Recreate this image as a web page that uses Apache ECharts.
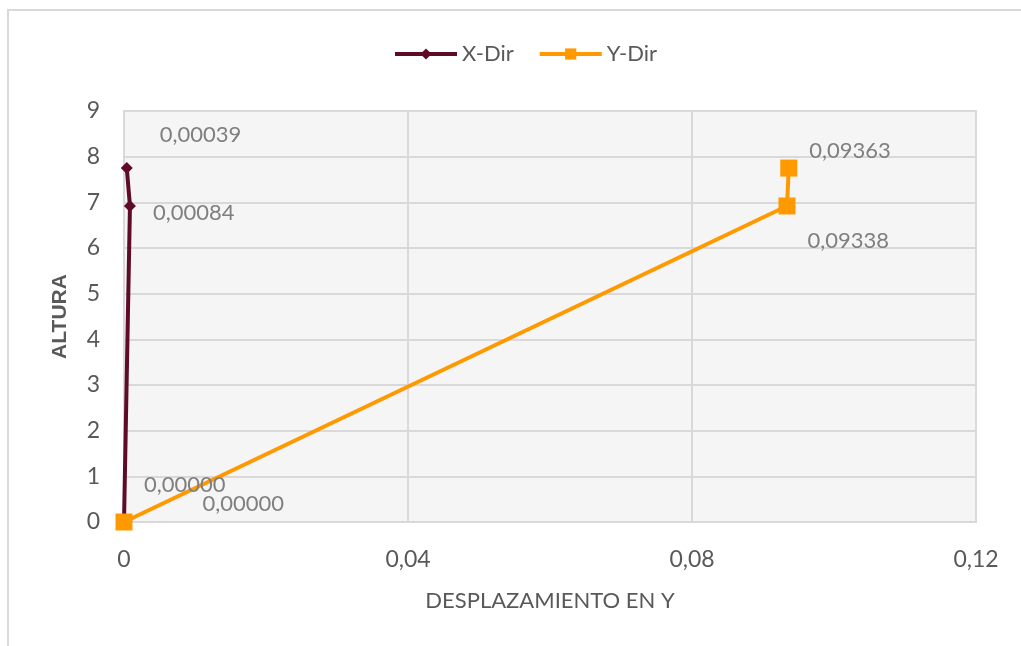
<!DOCTYPE html>
<html>
<head>
<meta charset="utf-8">
<script src="https://cdn.jsdelivr.net/npm/echarts@6/dist/echarts.min.js"></script>
<style>
	html,body{margin:0;padding:0;background:#fff}
	#main{width:1021px;height:646px}
</style>
</head>
<body>
<div id="main"></div>
<script>
// alturas de los niveles
var alturas = [0, 6.92, 7.75];
// desplazamientos
var xDir = [0, 0.00084, 0.00039];
var yDir = [0, 0.09338, 0.09363];
var xTicks = [0, 0.04, 0.08, 0.12];

var myChart = echarts.init(document.getElementById('main'));
var font = 'Lato, "Open Sans", sans-serif';

function fmt(v){
	return v.toFixed(5).replace('.', ',');
}
function pares(xs){
	return xs.map(function(x, i){ return [x, alturas[i]]; });
}
// desplazamiento de las etiquetas de cada punto
var offX = [[14,-37],[17,7],[27,-33]];
var offY = [[70,-18],[12,35],[12,-17]];
function conEtiquetas(datos, offs){
	return datos.map(function(d, i){
		return {value: d, label: {offset: offs[i]}};
	});
}

var option = {
	animation: false,
	textStyle: {fontFamily: font},
	graphic: [{
		type: 'rect',
		shape: {x: 8, y: 10, width: 1100, height: 700},
		style: {fill: 'none', stroke: '#d9d9d9', lineWidth: 2},
		silent: true
	}],
	legend: {
		top: 38,
		left: 388,
		itemWidth: 62,
		itemHeight: 14,
		itemGap: 24,
		lineStyle: {width: 4},
		textStyle: {fontSize: 22, color: '#595959', fontFamily: font},
		data: ['X-Dir', 'Y-Dir']
	},
	grid: {
		left: 124, right: 45, top: 111, bottom: 124,
		show: true,
		backgroundColor: '#f5f5f5',
		borderColor: '#d9d9d9',
		borderWidth: 2
	},
	xAxis: {
		type: 'value',
		min: xTicks[0], max: xTicks[xTicks.length - 1], interval: 0.04,
		name: 'DESPLAZAMIENTO EN Y',
		nameLocation: 'middle',
		nameGap: 68,
		nameTextStyle: {fontSize: 22, color: '#595959'},
		axisLine: {show: true, lineStyle: {color: '#d9d9d9', width: 2}},
		axisTick: {show: false},
		axisLabel: {
			fontSize: 23, color: '#595959', margin: 26,
			formatter: function(v){
				return v === 0 ? '0' : v.toFixed(2).replace('.', ',');
			}
		},
		splitLine: {show: true, lineStyle: {color: '#d9d9d9', width: 2}}
	},
	yAxis: {
		type: 'value',
		min: 0, max: 9, interval: 1,
		name: 'ALTURA',
		nameLocation: 'middle',
		nameGap: 53,
		nameTextStyle: {fontSize: 21, color: '#595959', fontWeight: 'bold', fontFamily: '"Liberation Sans", Arial, sans-serif'},
		axisLine: {show: true, lineStyle: {color: '#d9d9d9', width: 2}},
		axisTick: {show: false},
		axisLabel: {fontSize: 23, color: '#595959', margin: 24},
		splitLine: {show: true, lineStyle: {color: '#d9d9d9', width: 2}}
	},
	series: [
		{
			name: 'X-Dir',
			type: 'line',
			symbol: 'diamond',
			symbolSize: 12,
			color: '#5e0b28',
			lineStyle: {width: 4, color: '#5e0b28'},
			itemStyle: {color: '#5e0b28'},
			label: {
				show: true, position: 'right', distance: 0,
				fontSize: 22, color: '#7f7f7f',
				formatter: function(p){ return fmt(p.value[0]); }
			},
			data: conEtiquetas(pares(xDir), offX)
		},
		{
			name: 'Y-Dir',
			type: 'line',
			symbol: 'rect',
			symbolSize: 17,
			color: '#ff9900',
			lineStyle: {width: 4, color: '#ff9900'},
			itemStyle: {color: '#ff9900'},
			label: {
				show: true, position: 'right', distance: 0,
				fontSize: 22, color: '#7f7f7f',
				formatter: function(p){ return fmt(p.value[0]); }
			},
			data: conEtiquetas(pares(yDir), offY)
		}
	]
};
myChart.setOption(option);
</script>
</body>
</html>
